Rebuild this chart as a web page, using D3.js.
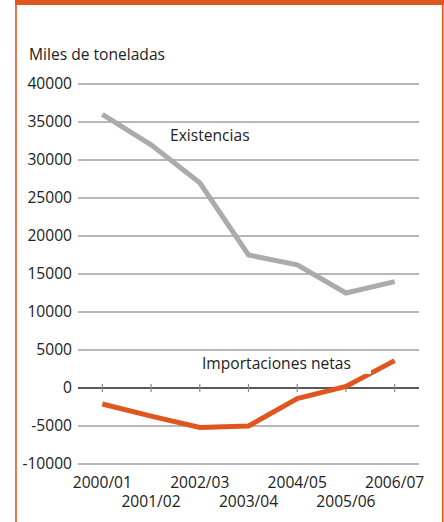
<!DOCTYPE html>
<html lang="es">
<head>
<meta charset="UTF-8">
<title>Existencias e importaciones netas</title>
<script src="https://d3js.org/d3.v7.min.js"></script>
<style>
  html, body { margin: 0; padding: 0; background: #fff; }
  svg { display: block; font-family: "Open Sans", "Noto Sans", sans-serif; }
  .grid line { stroke: #a0a0a0; stroke-width: 1.5; }
  .tick-label { font-size: 15.6px; fill: #222; }
</style>
</head>
<body>
<div id="chart"></div>
<script>
// campañas
var seasons = ["2000/01", "2001/02", "2002/03", "2003/04", "2004/05", "2005/06", "2006/07"];
// miles de toneladas
var existencias = [36000, 32000, 27000, 17500, 16200, 12500, 14000];
var importacionesNetas = [-2100, -3700, -5200, -5000, -1400, 200, 3600];
var yTicks = [40000, 35000, 30000, 25000, 20000, 15000, 10000, 5000, 0, -5000, -10000];

var W = 444, H = 522;
var orange = "#e0561f";
var fs = 15.6;

var svg = d3.select("#chart").append("svg")
    .attr("width", W)
    .attr("height", H);

// marco
svg.append("rect").attr("x", 15).attr("y", 0).attr("width", W - 15).attr("height", 5).attr("fill", orange);
svg.append("line").attr("x1", 16).attr("x2", 16).attr("y1", 0).attr("y2", H)
    .attr("stroke", orange).attr("stroke-width", 1.6);
svg.append("line").attr("x1", 442.8).attr("x2", 442.8).attr("y1", 0).attr("y2", H)
    .attr("stroke", orange).attr("stroke-width", 1.6);

var x = d3.scalePoint().domain(seasons).range([78, 419]).padding(0.5);
var y = d3.scaleLinear().domain([-10000, 40000]).range([464, 84]);

svg.append("text")
    .attr("x", 29).attr("y", 60)
    .attr("font-size", fs).attr("fill", "#222")
    .text("Miles de toneladas");

// rejilla
var grid = svg.append("g").attr("class", "grid");
grid.selectAll("line").data(yTicks.filter(function(d) { return d !== 0; }))
    .join("line")
    .attr("x1", 78).attr("x2", 419)
    .attr("y1", function(d) { return y(d); })
    .attr("y2", function(d) { return y(d); });

svg.selectAll(".tick-label.y").data(yTicks)
    .join("text")
    .attr("class", "tick-label y")
    .attr("x", 72)
    .attr("y", function(d) { return y(d); })
    .attr("dy", "0.35em")
    .attr("text-anchor", "end")
    .text(function(d) { return d; });

// eje cero
svg.append("line")
    .attr("x1", 78).attr("x2", 419)
    .attr("y1", y(0)).attr("y2", y(0))
    .attr("stroke", "#5a5a5a").attr("stroke-width", 2);
svg.selectAll(".xtick").data(seasons)
    .join("line")
    .attr("class", "xtick")
    .attr("x1", function(d) { return x(d); })
    .attr("x2", function(d) { return x(d); })
    .attr("y1", y(0) - 4).attr("y2", y(0) + 4)
    .attr("stroke", "#8a8a8a").attr("stroke-width", 1.2);

svg.selectAll(".tick-label.x").data(seasons)
    .join("text")
    .attr("class", "tick-label x")
    .attr("x", function(d) { return x(d); })
    .attr("y", function(d, i) { return i % 2 === 0 ? 488 : 507; })
    .attr("text-anchor", "middle")
    .text(function(d) { return d; });

var line = d3.line()
    .x(function(d, i) { return x(seasons[i]); })
    .y(function(d) { return y(d); });

svg.append("path").datum(existencias)
    .attr("d", line)
    .attr("fill", "none")
    .attr("stroke", "#ababab")
    .attr("stroke-width", 5);

svg.append("path").datum(importacionesNetas)
    .attr("d", line)
    .attr("fill", "none")
    .attr("stroke", orange)
    .attr("stroke-width", 5);

// etiquetas de serie
svg.append("text")
    .attr("x", 170).attr("y", 141)
    .attr("font-size", fs).attr("fill", "#222")
    .text("Existencias");

svg.append("rect")
    .attr("x", 198).attr("y", 351).attr("width", 173).attr("height", 23)
    .attr("fill", "#fff");
svg.append("text")
    .attr("x", 202).attr("y", 369)
    .attr("font-size", fs).attr("fill", "#222")
    .text("Importaciones netas");
</script>
</body>
</html>
